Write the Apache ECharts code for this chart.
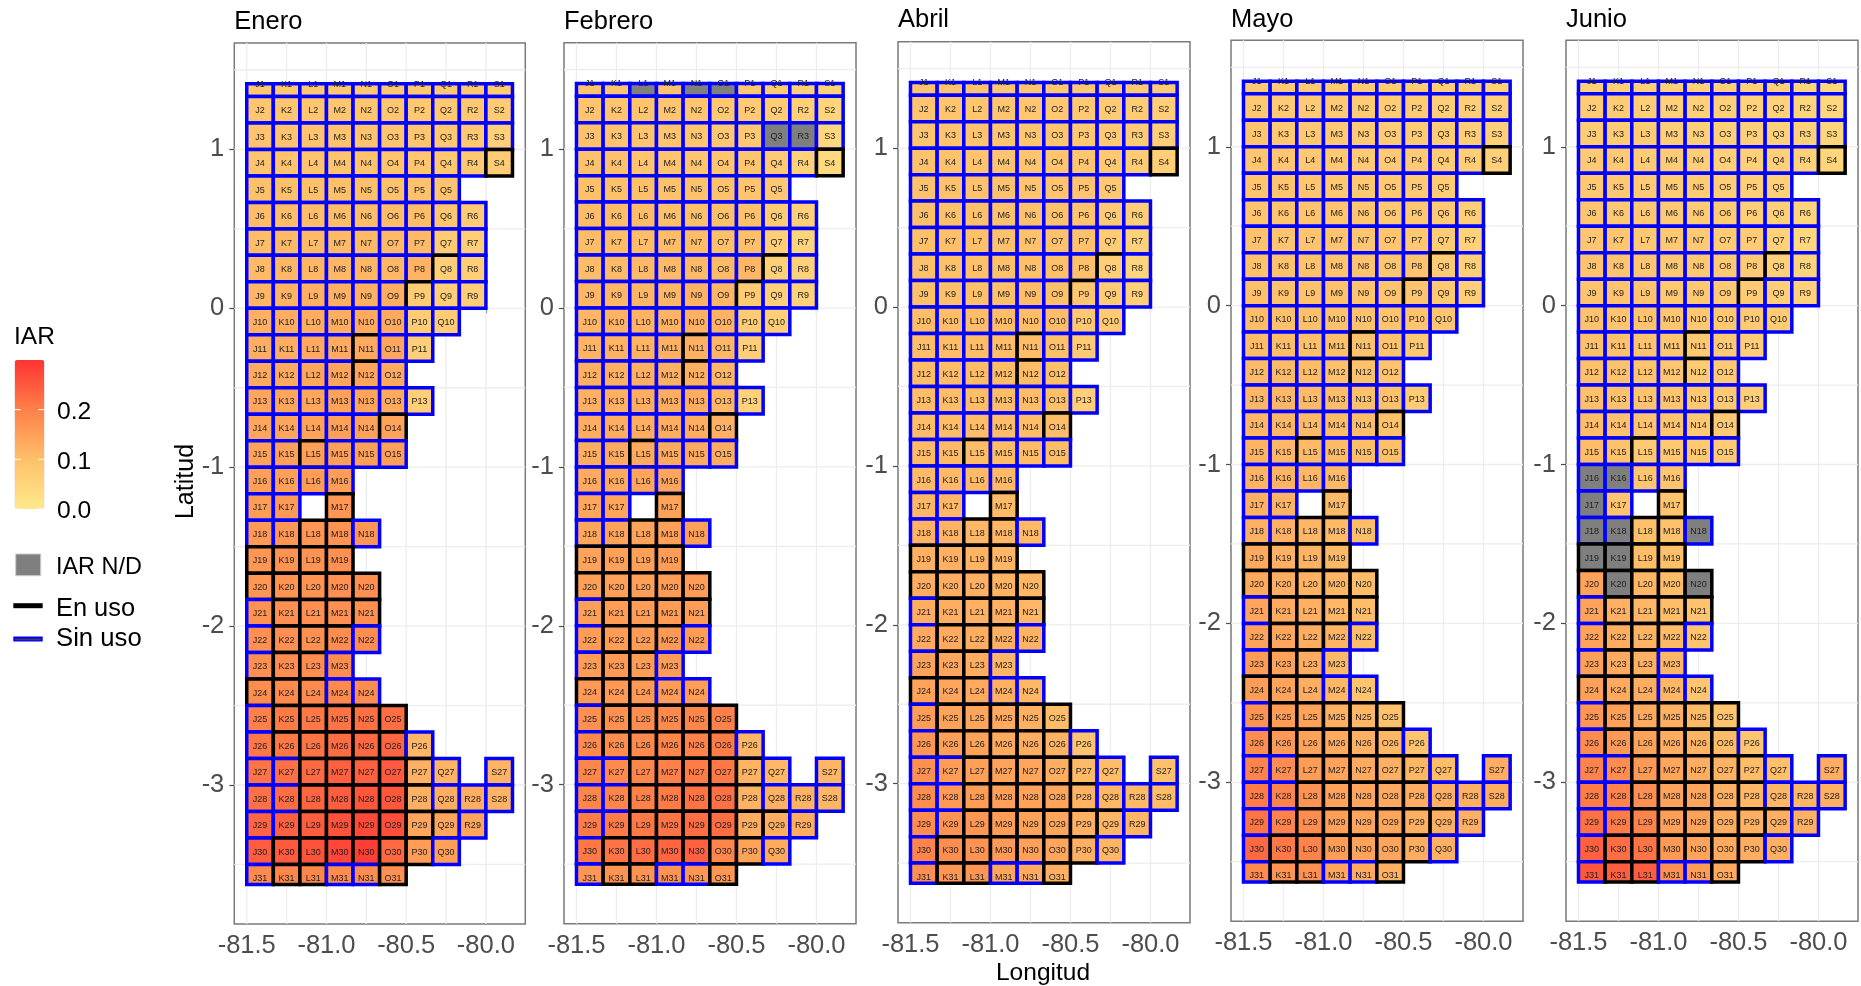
<!DOCTYPE html>
<html>
<head>
<meta charset="utf-8">
<title>IAR</title>
<style>
  html, body { margin: 0; padding: 0; background: #fff; }
  #chart { width: 1861px; height: 986px; }
</style>
<script src="https://cdn.jsdelivr.net/npm/echarts@6/dist/echarts.min.js"></script>
</head>
<body>
<div id="chart"></div>
<script>
// letters present on each row of the grid, row 1 to row 31
const rowLetters = [
  "JKLMNOPQRS", "JKLMNOPQRS", "JKLMNOPQRS", "JKLMNOPQRS", "JKLMNOPQ",
  "JKLMNOPQR", "JKLMNOPQR", "JKLMNOPQR", "JKLMNOPQR", "JKLMNOPQ",
  "JKLMNOP", "JKLMNO", "JKLMNOP", "JKLMNO", "JKLMNO",
  "JKLM", "JKM", "JKLMN", "JKLM", "JKLMN",
  "JKLMN", "JKLMN", "JKLM", "JKLMN", "JKLMNO",
  "JKLMNOP", "JKLMNOPQS", "JKLMNOPQRS", "JKLMNOPQR", "JKLMNOPQ", "JKLMNO",
];

const enUso = [
  "S4", "Q8", "P9", "N11", "N12", "O14", "L15", "M17", "L18", "M18",
  "J19", "K19", "L19", "M19", "J20", "K20", "L20", "M20", "N20",
  "K21", "L21", "M21", "N21", "K22", "L22", "M22", "K23", "L23",
  "J24", "K24", "L24", "K25", "L25", "M25", "N25", "O25",
  "K26", "L26", "M26", "N26", "O26", "L27", "M27", "N27", "O27", "P27",
  "L28", "M28", "N28", "O28", "P28", "L29", "M29", "N29", "O29", "P29", "Q29",
  "K30", "L30", "M30", "N30", "O30", "P30", "K31", "L31", "O31",
];

// IAR per cell, null = N/D
const enero = [
  [.08,.08,.08,.08,.08,.08,.08,.08,.08,.07],
  [.085,.085,.085,.085,.085,.085,.08,.08,.08,.07],
  [.09,.09,.09,.09,.09,.085,.085,.08,.08,.06],
  [.09,.09,.09,.09,.09,.09,.085,.08,.08,.07],
  [.10,.10,.10,.10,.10,.095,.095,.09],
  [.105,.105,.105,.105,.105,.105,.105,.085,.075],
  [.105,.11,.11,.11,.11,.11,.11,.07,.065],
  [.11,.115,.115,.115,.115,.115,.12,.065,.065],
  [.115,.12,.125,.125,.125,.13,.07,.065,.065],
  [.125,.13,.13,.13,.135,.135,.07,.07],
  [.13,.13,.135,.135,.135,.14,.065],
  [.135,.135,.14,.14,.14,.135],
  [.14,.14,.14,.145,.14,.135,.065],
  [.14,.14,.145,.15,.145,.145],
  [.145,.15,.15,.15,.15,.15],
  [.15,.15,.155,.155],
  [.155,.16,.165],
  [.16,.165,.165,.17,.165],
  [.165,.17,.17,.175],
  [.165,.17,.17,.175,.175],
  [.17,.175,.175,.175,.175],
  [.175,.175,.175,.18,.18],
  [.175,.18,.18,.18],
  [.18,.185,.185,.185,.18],
  [.20,.205,.21,.215,.22,.225],
  [.21,.21,.215,.225,.23,.235,.115],
  [.215,.22,.23,.24,.24,.25,.125,.12,.12],
  [.22,.225,.235,.245,.255,.255,.125,.13,.13,.12],
  [.235,.24,.245,.26,.27,.265,.14,.14,.14],
  [.245,.25,.26,.275,.285,.23,.155,.15],
  [.185,.19,.19,.18,.18,.175],
];

const febrero = [
  [.09,.09,null,.09,null,null,.08,.07,.06,.055],
  [.09,.09,.09,.085,.085,.08,.075,.07,.06,.05],
  [.095,.09,.09,.09,.085,.08,.08,null,null,.045],
  [.095,.095,.09,.09,.09,.085,.085,.075,.055,.04],
  [.10,.10,.10,.095,.095,.095,.09,.08],
  [.105,.105,.105,.10,.10,.10,.095,.07,.06],
  [.105,.105,.105,.105,.105,.10,.10,.065,.05],
  [.105,.11,.11,.11,.11,.11,.115,.06,.055],
  [.115,.115,.115,.115,.12,.115,.07,.06,.055],
  [.115,.12,.12,.12,.125,.12,.07,.065],
  [.12,.12,.12,.125,.125,.115,.065],
  [.125,.125,.125,.125,.125,.115],
  [.125,.125,.13,.13,.13,.115,.055],
  [.13,.13,.13,.13,.13,.125],
  [.13,.135,.135,.135,.135,.13],
  [.135,.135,.14,.14],
  [.14,.14,.145],
  [.14,.145,.145,.15,.15],
  [.145,.15,.15,.155],
  [.15,.15,.15,.155,.155],
  [.15,.155,.155,.155,.155],
  [.155,.155,.155,.16,.155],
  [.155,.16,.155,.155],
  [.16,.16,.16,.155,.155],
  [.175,.175,.18,.185,.19,.20],
  [.185,.18,.185,.19,.195,.205,.115],
  [.19,.185,.19,.20,.205,.21,.12,.115,.115],
  [.19,.19,.20,.205,.215,.22,.12,.125,.12,.115],
  [.205,.205,.21,.215,.225,.225,.13,.13,.13],
  [.21,.215,.225,.235,.24,.19,.145,.135],
  [.165,.17,.17,.17,.165,.165],
];

const abril = [
  [.09,.09,.09,.085,.085,.08,.08,.075,.075,.07],
  [.09,.09,.085,.085,.085,.08,.08,.075,.07,.065],
  [.09,.09,.09,.085,.085,.085,.08,.075,.07,.065],
  [.095,.095,.09,.09,.09,.085,.085,.08,.07,.065],
  [.095,.095,.095,.095,.09,.09,.09,.08],
  [.10,.10,.10,.095,.095,.095,.09,.075,.065],
  [.10,.10,.10,.095,.095,.095,.095,.07,.055],
  [.10,.10,.10,.10,.10,.10,.10,.065,.05],
  [.10,.10,.10,.10,.105,.10,.085,.07,.06],
  [.105,.105,.105,.105,.105,.105,.08,.075],
  [.105,.105,.105,.105,.105,.10,.075],
  [.105,.105,.105,.105,.105,.10],
  [.105,.105,.105,.105,.105,.10,.065],
  [.105,.105,.105,.105,.105,.105],
  [.11,.11,.105,.105,.105,.105],
  [.11,.11,.11,.11],
  [.115,.115,.11],
  [.12,.12,.115,.115,.11],
  [.125,.125,.12,.115],
  [.13,.13,.125,.12,.115],
  [.13,.13,.125,.125,.115],
  [.135,.135,.13,.125,.12],
  [.145,.14,.13,.115],
  [.145,.14,.135,.125,.115],
  [.155,.145,.14,.135,.125,.105],
  [.165,.15,.145,.135,.13,.12,.09],
  [.175,.155,.15,.145,.14,.13,.11,.105,.10],
  [.18,.16,.155,.15,.145,.14,.12,.115,.11,.105],
  [.18,.17,.165,.155,.145,.14,.125,.115,.115],
  [.195,.18,.17,.16,.15,.14,.125,.115],
  [.175,.165,.165,.14,.135,.125],
];

const mayo = [
  [.075,.075,.075,.07,.07,.07,.07,.065,.065,.06],
  [.08,.075,.075,.075,.07,.07,.07,.065,.065,.06],
  [.085,.08,.08,.075,.075,.07,.07,.07,.065,.06],
  [.085,.085,.08,.08,.075,.075,.075,.07,.065,.06],
  [.09,.09,.085,.08,.08,.08,.075,.07],
  [.09,.09,.09,.085,.085,.08,.08,.075,.065],
  [.095,.09,.09,.09,.085,.085,.08,.07,.055],
  [.095,.095,.095,.09,.09,.085,.09,.075,.06],
  [.10,.095,.095,.095,.09,.09,.09,.08,.065],
  [.105,.10,.10,.095,.095,.09,.09,.085],
  [.105,.105,.10,.10,.095,.09,.08],
  [.11,.11,.105,.10,.095,.09],
  [.115,.115,.11,.105,.10,.095,.07],
  [.115,.115,.11,.105,.105,.095],
  [.12,.115,.11,.11,.105,.10],
  [.12,.12,.115,.11],
  [.125,.12,.11],
  [.125,.125,.115,.11,.105],
  [.135,.125,.12,.11],
  [.135,.13,.12,.115,.105],
  [.14,.135,.125,.115,.105],
  [.145,.14,.13,.12,.105],
  [.155,.145,.13,.11],
  [.155,.145,.13,.115,.09],
  [.17,.155,.145,.125,.115,.095],
  [.18,.16,.145,.135,.125,.115,.09],
  [.195,.18,.155,.145,.135,.125,.115,.105,.13],
  [.205,.195,.17,.145,.14,.135,.13,.125,.125,.13],
  [.215,.195,.18,.15,.14,.14,.125,.125,.125],
  [.23,.21,.195,.155,.145,.14,.13,.125],
  [.185,.17,.175,.14,.135,.125],
];

const junio = [
  [.06,.06,.06,.055,.055,.055,.055,.055,.05,.045],
  [.07,.07,.065,.06,.06,.06,.055,.055,.05,.045],
  [.07,.07,.07,.065,.06,.06,.06,.055,.055,.05],
  [.075,.075,.07,.07,.065,.06,.06,.06,.055,.05],
  [.08,.08,.075,.07,.07,.065,.065,.06],
  [.085,.08,.08,.075,.07,.07,.065,.06,.05],
  [.085,.085,.08,.08,.075,.07,.07,.055,.045],
  [.09,.09,.085,.08,.08,.075,.075,.06,.05],
  [.09,.09,.09,.08,.08,.075,.07,.065,.055],
  [.095,.09,.09,.085,.08,.08,.075,.07],
  [.10,.095,.09,.085,.08,.075,.065],
  [.10,.095,.09,.085,.07,.075],
  [.10,.095,.09,.085,.08,.075,.065],
  [.105,.095,.09,.085,.08,.075],
  [.105,.095,.075,.08,.08,.075],
  [null,null,.085,.085],
  [null,.09,.09],
  [null,null,.10,.095,null],
  [null,null,.105,.10],
  [.145,null,.115,.105,null],
  [.145,.125,.115,.105,.09],
  [.145,.13,.12,.11,.09],
  [.15,.135,.125,.115],
  [.15,.135,.13,.115,.085],
  [.165,.15,.135,.125,.11,.085],
  [.18,.16,.145,.13,.12,.105,.085],
  [.195,.18,.16,.14,.13,.12,.105,.10,.13],
  [.205,.195,.175,.145,.14,.125,.115,.115,.115,.125],
  [.22,.205,.195,.15,.145,.13,.125,.125,.125],
  [.24,.225,.215,.16,.145,.135,.13,.125],
  [.255,.245,.245,.175,.155,.135],
];

const months = ["Enero", "Febrero", "Abril", "Mayo", "Junio"];
const monthValues = [enero, febrero, abril, mayo, junio];

const xTicks = [-81.5, -81, -80.5, -80];
const yTicks = [1, 0, -1, -2, -3];
const xGridLines = [-81.5, -81.25, -81, -80.75, -80.5, -80.25, -80];
const yGridLines = [1.5, 1, 0.5, 0, -0.5, -1, -1.5, -2, -2.5, -3, -3.5];
const legendTicks = [0, 0.1, 0.2];

// panel boxes in px: left, top, width, height
const panels = [
  [234.3, 43, 291, 881],
  [564, 42.7, 292, 881],
  [898, 41.7, 292, 881],
  [1231, 40.3, 292, 881],
  [1566, 40.3, 292, 881],
];

const FONT = '"Liberation Sans", Arial, sans-serif';
const xRange = [-81.578, -79.753];
const yRange = [-3.875, 1.67];
const cellSize = 1 / 6;
const lonStart = -81.5;
const latStart = 1.5;
const latCrop = [-3.627, 1.413]; // study area cuts the first and last rows
const colOrder = "JKLMNOPQRS";

const buildCells = (values) => {
  const cells = [];
  rowLetters.forEach((letters, r) => {
    letters.split("").forEach((letter, c) => {
      const name = letter + (r + 1);
      const lon0 = lonStart + colOrder.indexOf(letter) * cellSize;
      const latTop = latStart - r * cellSize;
      cells.push({
        name,
        value: [lon0, latTop, values[r][c], enUso.includes(name) ? 1 : 0],
      });
    });
  });
  return cells;
};

const renderCell = (params, api) => {
  const lon0 = api.value(0);
  const latTop = api.value(1);
  const iar = api.value(2);
  const used = api.value(3);
  const name = rowLabel(params);
  const p0 = api.coord([lon0, Math.min(latTop, latCrop[1])]);
  const p1 = api.coord([lon0 + cellSize, Math.max(latTop - cellSize, latCrop[0])]);
  const mid = api.coord([lon0 + cellSize / 2, latTop - cellSize / 2]);
  return {
    type: "group",
    children: [
      {
        type: "rect",
        shape: { x: p0[0], y: p0[1], width: p1[0] - p0[0], height: p1[1] - p0[1] },
        style: {
          fill: isNaN(iar) ? "#7f7f7f" : api.visual("color"),
          stroke: used ? "#000000" : "#0000ff",
          lineWidth: 3.5,
        },
      },
      {
        type: "text",
        x: mid[0],
        y: mid[1] + 1,
        style: {
          text: name,
          fill: "#222222",
          font: "9px " + FONT,
          align: "center",
          verticalAlign: "middle",
        },
      },
    ],
  };
};

const allCells = monthValues.map(buildCells);
const rowLabel = (params) => allCells[params.seriesIndex][params.dataIndex].name;

const gridData = [
  ...xGridLines.map((v) => [0, v]),
  ...yGridLines.map((v) => [1, v]),
];

const renderGridLine = (params, api) => {
  const isX = api.value(0) === 0;
  const v = api.value(1);
  const a = api.coord(isX ? [v, yRange[0]] : [xRange[0], v]);
  const b = api.coord(isX ? [v, yRange[1]] : [xRange[1], v]);
  return {
    type: "line",
    shape: { x1: a[0], y1: a[1], x2: b[0], y2: b[1] },
    style: { stroke: "#ededed", lineWidth: 1.3 },
  };
};

const axisBase = {
  type: "value",
  axisLine: { show: false },
  splitLine: { show: false },
};

const legendBar = { x: 14.7, y: 360, w: 29.6, h: 149, max: 0.3 };
const legendText = (text, x, y, size) => ({
  type: "text",
  x,
  y,
  style: { text, fill: "#000", font: size + "px " + FONT, verticalAlign: "middle" },
});

const legendGraphics = [
  legendText("IAR", 14, 337.5, 24.5),
  ...legendTicks.flatMap((v) => {
    const y = legendBar.y + legendBar.h * (1 - v / legendBar.max);
    return [
      legendText(v.toFixed(1), 57, Math.min(y + 3, 511), 24.7),
      { type: "line", z: 10, shape: { x1: legendBar.x, y1: y, x2: legendBar.x + 6, y2: y }, style: { stroke: "#fff", lineWidth: 1 } },
      { type: "line", z: 10, shape: { x1: legendBar.x + legendBar.w - 6, y1: y, x2: legendBar.x + legendBar.w, y2: y }, style: { stroke: "#fff", lineWidth: 1 } },
    ];
  }),
  { type: "rect", shape: { x: 15.7, y: 554, width: 25, height: 21.7 }, style: { fill: "#7f7f7f", stroke: "#cccccc", lineWidth: 1 } },
  legendText("IAR N/D", 56, 568, 23.4),
  { type: "line", shape: { x1: 13.3, y1: 605.7, x2: 42.7, y2: 605.7 }, style: { stroke: "#000", lineWidth: 5 } },
  legendText("En uso", 56, 609, 25.4),
  { type: "line", shape: { x1: 13.3, y1: 639, x2: 42.7, y2: 639 }, style: { stroke: "#0000ff", lineWidth: 5 } },
  { type: "line", shape: { x1: 15, y1: 639.5, x2: 41, y2: 639.5 }, style: { stroke: "#444", lineWidth: 1.5 } },
  legendText("Sin uso", 56, 638.5, 25.7),
  {
    type: "text",
    x: 186,
    y: 481.5,
    rotation: Math.PI / 2,
    style: { text: "Latitud", fill: "#000", font: "25px " + FONT, align: "center", verticalAlign: "middle" },
  },
  {
    type: "text",
    x: 1043,
    y: 973,
    style: { text: "Longitud", fill: "#000", font: "24.5px " + FONT, align: "center", verticalAlign: "middle" },
  },
];

const chart = echarts.init(document.getElementById("chart"));

chart.setOption({
  animation: false,
  title: months.map((m, i) => ({
    text: m,
    left: panels[i][0],
    top: i < 2 ? 9 : 7,
    padding: 0,
    textStyle: { fontFamily: FONT, fontSize: 25.5, fontWeight: "normal", color: "#000" },
  })),
  grid: panels.map((p) => ({
    left: p[0],
    top: p[1],
    width: p[2],
    height: p[3],
    show: true,
    backgroundColor: "#fff",
    borderColor: "#7a7a7a",
    borderWidth: 1.5,
  })),
  xAxis: panels.map((p, i) => ({
    ...axisBase,
    gridIndex: i,
    min: xRange[0],
    max: xRange[1],
    axisTick: { show: true, length: 5, customValues: xTicks, lineStyle: { color: "#4d4d4d", width: 1.2 } },
    axisLabel: {
      customValues: xTicks,
      formatter: (v) => v.toFixed(1),
      color: "#4d4d4d",
      fontFamily: FONT,
      fontSize: 25.5,
      margin: 9,
    },
  })),
  yAxis: panels.map((p, i) => ({
    ...axisBase,
    gridIndex: i,
    min: yRange[0],
    max: yRange[1],
    axisTick: { show: true, length: 5, customValues: yTicks, lineStyle: { color: "#4d4d4d", width: 1.2 } },
    axisLabel: {
      customValues: yTicks,
      formatter: (v) => String(v),
      color: "#4d4d4d",
      fontFamily: FONT,
      fontSize: 25.5,
      margin: 10,
      padding: [9, 0, 0, 0],
    },
  })),
  visualMap: {
    type: "continuous",
    min: 0,
    max: legendBar.max,
    dimension: 2,
    seriesIndex: [0, 1, 2, 3, 4],
    left: legendBar.x,
    top: legendBar.y,
    itemWidth: legendBar.w,
    itemHeight: legendBar.h,
    padding: 0,
    calculable: false,
    hoverLink: false,
    realtime: false,
    text: null,
    inRange: { color: ["#ffe98c", "#ffc06a", "#ff8048", "#ff3333"] },
    outOfRange: { color: "#7f7f7f" },
  },
  series: [
    ...allCells.map((cells, i) => ({
      type: "custom",
      xAxisIndex: i,
      yAxisIndex: i,
      coordinateSystem: "cartesian2d",
      z: 3,
      silent: true,
      clip: false,
      renderItem: renderCell,
      encode: { x: 0, y: 1 },
      data: cells,
    })),
    ...panels.map((p, i) => ({
      type: "custom",
      xAxisIndex: i,
      yAxisIndex: i,
      coordinateSystem: "cartesian2d",
      z: 1,
      silent: true,
      renderItem: renderGridLine,
      data: gridData,
    })),
  ],
  graphic: legendGraphics,
});
</script>
</body>
</html>
